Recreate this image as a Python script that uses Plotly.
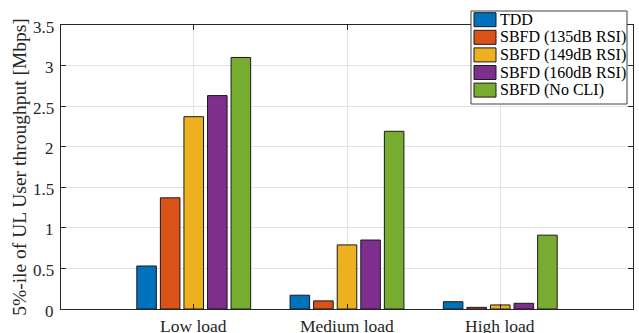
import plotly.graph_objects as go

categories = ["Low load", "Medium load", "High load"]
series_names = ["TDD", "SBFD (135dB RSI)", "SBFD (149dB RSI)", "SBFD (160dB RSI)", "SBFD (No CLI)"]
tdd = [0.53, 0.17, 0.09]
sbfd_135 = [1.37, 0.10, 0.02]
sbfd_149 = [2.37, 0.79, 0.05]
sbfd_160 = [2.63, 0.85, 0.07]
sbfd_nocli = [3.10, 2.19, 0.91]
y_ticks = [0, 0.5, 1, 1.5, 2, 2.5, 3, 3.5]
y_tick_labels = ["0", "0.5", "1", "1.5", "2", "2.5", "3", "3.5"]

colors = ["#0072BD", "#D95319", "#EDB120", "#7E2F8E", "#77AC30"]
series = [tdd, sbfd_135, sbfd_149, sbfd_160, sbfd_nocli]
xpos = [1, 2, 3]

FONT = "Liberation Serif"
axis_col = "#262626"
grid_col = "#e3e3e3"
edge_col = "#1a1a1a"

W, H = 639, 333
ML, MR, MT, MB = 61, 6, 25, 24
PW, PH = W - ML - MR, H - MT - MB


def px_x(x):
    return (x - ML) / PW


def px_y(y):
    return (H - MB - y) / PH


fig = go.Figure()
for name, vals, col in zip(series_names, series, colors):
    fig.add_trace(go.Bar(
        x=xpos, y=vals, name=name, showlegend=False,
        marker=dict(color=col, line=dict(color=edge_col, width=1)),
    ))

annotations = []
# serif tick labels placed on the axis scales
for xv, lab in zip(xpos, categories):
    annotations.append(dict(xref="x", yref="paper", x=xv, y=0, xanchor="center",
                            yanchor="top", yshift=-5, text=lab, showarrow=False,
                            font=dict(family=FONT, size=17.5, color=axis_col)))
for yv, lab in zip(y_ticks, y_tick_labels):
    annotations.append(dict(xref="paper", yref="y", x=0, y=yv, xanchor="right",
                            yanchor="middle", xshift=-5, yshift=-2, text=lab,
                            showarrow=False,
                            font=dict(family=FONT, size=17, color=axis_col)))

# legend box with swatches, drawn in paper coordinates
shapes = [dict(type="rect", xref="paper", yref="paper",
               x0=px_x(471), x1=px_x(627), y0=px_y(104), y1=px_y(11),
               line=dict(color="#404040", width=1), fillcolor="white", layer="above")]
row0, pitch = 19.7, 17.6
for i, (name, col) in enumerate(zip(series_names, colors)):
    cy = row0 + i * pitch
    shapes.append(dict(type="rect", xref="paper", yref="paper",
                       x0=px_x(474), x1=px_x(496), y0=px_y(cy + 7), y1=px_y(cy - 7),
                       line=dict(color=edge_col, width=1), fillcolor=col, layer="above"))
    annotations.append(dict(xref="paper", yref="paper", x=px_x(497.5), y=px_y(cy),
                            xanchor="left", yanchor="middle", text=name, showarrow=False,
                            font=dict(family=FONT, size=16, color="black")))

fig.update_layout(
    width=W, height=H,
    margin=dict(l=ML, r=MR, t=MT, b=MB, autoexpand=False),
    paper_bgcolor="white", plot_bgcolor="white",
    barmode="group", bargap=0.231, bargroupgap=0.17,
    font=dict(family=FONT, size=17, color=axis_col),
    showlegend=False,
    shapes=shapes, annotations=annotations,
)
fig.update_xaxes(
    range=[0.134, 3.866], tickvals=xpos, showticklabels=False,
    showgrid=True, gridcolor=grid_col, gridwidth=1,
    ticks="inside", ticklen=5, tickcolor=axis_col,
    showline=True, linecolor=axis_col, linewidth=1, mirror="ticks",
    zeroline=False, automargin=False,
)
fig.update_yaxes(
    range=[0, 3.5], tickvals=y_ticks, showticklabels=False,
    showgrid=True, gridcolor=grid_col, gridwidth=1,
    ticks="inside", ticklen=5, tickcolor=axis_col,
    showline=True, linecolor=axis_col, linewidth=1, mirror="ticks",
    zeroline=False, automargin=False,
    title=dict(text="5%-ile of UL User throughput [Mbps]", standoff=28,
               font=dict(family=FONT, size=19.5, color=axis_col)),
)

fig.write_html("out.html")
